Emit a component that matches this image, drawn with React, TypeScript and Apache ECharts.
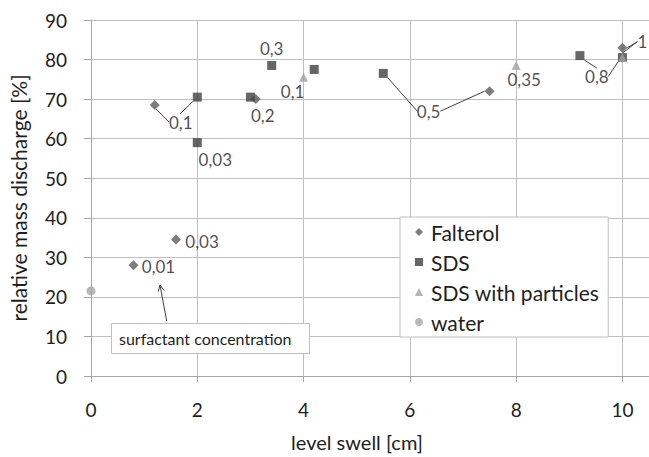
import React, { useEffect, useRef } from "react";
import * as echarts from "echarts";

// ---- data ----
const seriesNames = ["Falterol", "SDS", "SDS with particles", "water"];

const falterolX = [0.8, 1.6, 1.2, 3.1, 7.5, 10];
const falterolY = [28, 34.5, 68.5, 70, 72, 83];
const falterolLabels = ["0,01", "0,03", "0,1", "0,2", "0,5", "1"];

const sdsX = [2, 2, 3, 3.4, 4.2, 5.5, 9.2, 10];
const sdsY = [70.5, 59, 70.5, 78.5, 77.5, 76.5, 81, 80.5];
const sdsLabels = ["0,1", "0,03", "", "0,3", "", "0,5", "0,8", "0,8"];

const particlesX = [4, 8, 10];
const particlesY = [75.5, 78.5, 80.5];
const particlesLabels = ["0,1", "0,35", "1"];

const waterX = [0];
const waterY = [21.5];
const waterLabels = [""];

const xMin = 0, xMax = 10.5, xStep = 2;
const yMin = 0, yMax = 90, yStep = 10;

const xTitle = "level swell [cm]";
const yTitle = "relative mass discharge [%]";
const noteText = "surfactant concentration";

// ---- label placement: [dx, dy, leader line, shared label drawn by another point] ----
type Off = [number, number, boolean, boolean];
const falterolOffsets: Off[] = [
  [25, 1, false, false], [26, 2, false, false], [26, 17, true, false], [7, 16, false, false],
  [-61, 20, true, false], [20, -6, true, false],
];
const sdsOffsets: Off[] = [
  [-17, 25, true, true], [18, 17, false, false], [0, 0, false, false], [0, -17, false, false],
  [0, 0, false, false], [46, 38, true, true], [17, 21, true, false], [-26, 19, true, true],
];
const particlesOffsets: Off[] = [
  [-11, 14, false, false], [8, 14, false, false], [20, -16, true, true],
];
const waterOffsets: Off[] = [[0, 0, false, false]];

const FONT = "Lato";
const TEXT = "#1e1e1e";

function buildData(xs: number[], ys: number[], labels: string[], offs: Off[]) {
  return xs.map((x, i) => ({
    value: [x, ys[i]],
    name: labels[i],
    label: offs[i][3]
      ? { show: labels[i] !== "", color: "rgba(0,0,0,0)" }
      : { show: labels[i] !== "" },
    labelLine: { show: labels[i] !== "" && offs[i][2] },
  }));
}

export default function App() {
  const ref = useRef<HTMLDivElement>(null);
  useEffect(() => {
    if (!ref.current) return;
    const chart = echarts.init(ref.current, undefined, { renderer: "svg" });
    const allOffsets = [falterolOffsets, sdsOffsets, particlesOffsets, waterOffsets];
    const commonSeries = {
      type: "scatter" as const,
      label: {
        position: "inside",
        formatter: "{b}",
        color: TEXT,
        fontFamily: FONT,
        fontSize: 17,
      },
      labelLine: { show: false, length2: 0, lineStyle: { color: "#404040", width: 1 } },
      labelLayout: (p: any) => {
        const o = allOffsets[p.seriesIndex][p.dataIndex];
        return { dx: o[0], dy: o[1], hideOverlap: false };
      },
    };

    // arrow for annotation
    const tail = [166.7, 321];
    const tip = [160, 285];
    const ang = Math.atan2(tail[1] - tip[1], tail[0] - tip[0]);
    const wing = 7, spread = 0.45;
    const w1 = [tip[0] + wing * Math.cos(ang + spread), tip[1] + wing * Math.sin(ang + spread)];
    const w2 = [tip[0] + wing * Math.cos(ang - spread), tip[1] + wing * Math.sin(ang - spread)];

    chart.setOption({
      animation: false,
      backgroundColor: "#ffffff",
      grid: { left: 91, right: -2, top: 20, bottom: 73, containLabel: false },
      xAxis: {
        type: "value",
        min: xMin,
        max: xMax,
        interval: xStep,
        name: xTitle,
        nameLocation: "middle",
        nameGap: 56,
        nameTextStyle: { fontFamily: FONT, fontSize: 20, color: TEXT, padding: [0, 26, 0, 0] },
        axisLine: { show: true, lineStyle: { color: "#a6a6a6", width: 1 } },
        axisTick: { show: true, length: 6, lineStyle: { color: "#a6a6a6" } },
        axisLabel: { fontFamily: FONT, fontSize: 19, color: TEXT, margin: 24, showMaxLabel: false },
        splitLine: { show: true, lineStyle: { color: "#bfbfbf", width: 1 } },
      },
      yAxis: {
        type: "value",
        min: yMin,
        max: yMax,
        interval: yStep,
        name: yTitle,
        nameLocation: "middle",
        nameGap: 62,
        nameTextStyle: { fontFamily: FONT, fontSize: 21, color: TEXT },
        axisLine: { show: true, lineStyle: { color: "#a6a6a6", width: 1 } },
        axisTick: { show: true, length: 7, lineStyle: { color: "#a6a6a6" } },
        axisLabel: { fontFamily: FONT, fontSize: 19, color: TEXT, margin: 24 },
        splitLine: { show: true, lineStyle: { color: "#bfbfbf", width: 1 } },
      },
      legend: {
        orient: "vertical",
        left: 400,
        top: 217,
        data: seriesNames,
        itemWidth: 8,
        itemHeight: 8,
        itemGap: 8,
        padding: [4, 9, 4, 15],
        backgroundColor: "#ffffff",
        borderColor: "#bfbfbf",
        borderWidth: 1,
        textStyle: { fontFamily: FONT, fontSize: 21, color: TEXT, lineHeight: 22, padding: [0, 0, 0, 3] },
      },
      series: [
        {
          ...commonSeries,
          name: seriesNames[0],
          symbol: "diamond",
          symbolSize: 10,
          itemStyle: { color: "#5c5c5c" },
          data: buildData(falterolX, falterolY, falterolLabels, falterolOffsets),
        },
        {
          ...commonSeries,
          name: seriesNames[1],
          symbol: "rect",
          symbolSize: 9,
          itemStyle: { color: "#404040" },
          data: buildData(sdsX, sdsY, sdsLabels, sdsOffsets),
        },
        {
          ...commonSeries,
          name: seriesNames[2],
          symbol: "triangle",
          symbolSize: 9,
          itemStyle: { color: "#a0a0a0" },
          data: buildData(particlesX, particlesY, particlesLabels, particlesOffsets),
        },
        {
          ...commonSeries,
          name: seriesNames[3],
          symbol: "circle",
          symbolSize: 9,
          itemStyle: { color: "#a6a6a6" },
          data: buildData(waterX, waterY, waterLabels, waterOffsets),
        },
      ],
      graphic: [
        {
          type: "rect",
          shape: { x: 111.5, y: 323.5, width: 198, height: 30 },
          style: { fill: "#ffffff", stroke: "#bfbfbf", lineWidth: 1 },
          z: 100,
        },
        {
          type: "text",
          x: 119,
          y: 338.5,
          style: { text: noteText, fontFamily: FONT, fontSize: 16, fill: TEXT, verticalAlign: "middle" },
          z: 101,
        },
        {
          type: "line",
          shape: { x1: tail[0], y1: tail[1], x2: tip[0], y2: tip[1] },
          style: { stroke: "#404040", lineWidth: 1 },
          z: 101,
        },
        {
          type: "polyline",
          shape: { points: [w1, tip, w2] },
          style: { stroke: "#404040", lineWidth: 1, fill: "none" },
          z: 101,
        },
      ],
    });
    return () => chart.dispose();
  }, []);
  return (
    <div
      ref={ref}
      style={{ position: "fixed", left: 0, top: 0, width: 649, height: 457 }}
    />
  );
}
